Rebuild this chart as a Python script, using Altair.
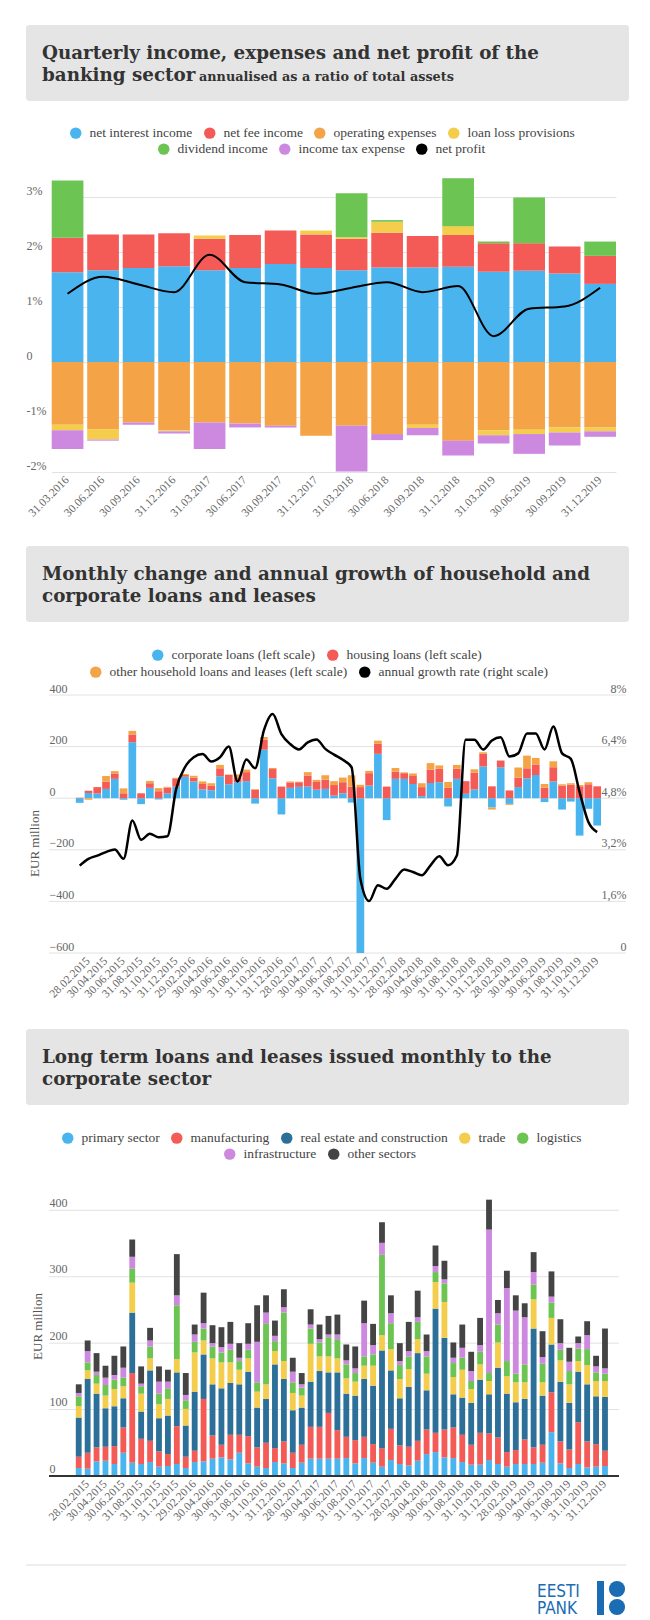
import altair as alt
import pandas as pd

SERIF = "Liberation Serif"
TITLE_FONT = "DejaVu Serif"

# ---------------- Chart 1: quarterly income, expenses, net profit ----------------
QUARTERS = ["31.03.2016", "30.06.2016", "30.09.2016", "31.12.2016",
            "31.03.2017", "30.06.2017", "30.09.2017", "31.12.2017",
            "31.03.2018", "30.06.2018", "30.09.2018", "31.12.2018",
            "31.03.2019", "30.06.2019", "30.09.2019", "31.12.2019"]
NET_INTEREST = [1.63, 1.67, 1.71, 1.74, 1.67, 1.71, 1.78, 1.71, 1.67, 1.72, 1.72, 1.73, 1.64, 1.66, 1.61, 1.42]
NET_FEE = [0.63, 0.65, 0.61, 0.60, 0.57, 0.60, 0.61, 0.61, 0.57, 0.63, 0.57, 0.58, 0.52, 0.50, 0.49, 0.51]
OPEX = [-1.14, -1.22, -1.10, -1.24, -1.10, -1.12, -1.16, -1.34, -1.16, -1.31, -1.14, -1.43, -1.24, -1.23, -1.19, -1.19]
LOAN_LOSS = [-0.10, -0.19, 0.0, -0.02, 0.06, 0.0, 0.0, 0.07, 0.03, 0.20, -0.06, 0.16, -0.09, -0.08, -0.09, -0.07]
DIVIDEND = [1.04, 0.0, 0.0, 0.0, 0.0, 0.0, 0.0, 0.0, 0.80, 0.03, 0.0, 0.87, 0.03, 0.83, 0.0, 0.26]
INCOME_TAX = [-0.34, -0.02, -0.04, -0.04, -0.48, -0.07, -0.03, 0.0, -0.83, -0.11, -0.13, -0.27, -0.15, -0.36, -0.24, -0.10]
NET_PROFIT = [1.24, 1.55, 1.41, 1.27, 1.95, 1.45, 1.41, 1.24, 1.35, 1.45, 1.27, 1.38, 0.47, 0.97, 1.01, 1.35]
C1_CATS = ["net interest income", "net fee income", "operating expenses", "loan loss provisions",
           "dividend income", "income tax expense", "net profit"]
C1_COLORS = ["#4ab4ee", "#f45b57", "#f5a347", "#f3cd4b", "#6cc552", "#cd88df", "#000000"]
C1_TICKS = [-2, -1, 0, 1, 2, 3]

# ---------------- Chart 2: monthly change of loans ----------------
MONTHS = (pd.date_range("2015-01-01", periods=60, freq="MS") + pd.offsets.MonthEnd(0)).strftime("%d.%m.%Y").tolist()
CORPORATE = [-18, 20, 18, 36, 75, -6, 217, -23, 40, -5, 19, 45,
             83, 65, 34, 31, 85, 54, 62, 66, -21, 188, 77, -63,
             40, 44, 45, 33, 36, 10, 19, -17, -600, 49, 172, -85,
             75, 75, 55, 8, 59, 62, -32, 75, 17, 34, 123, -36,
             120, -22, 43, 77, 90, -15, 65, -44, -13, -145, -41, -106]
HOUSING = [2, 9, 25, 28, 21, 19, 30, 19, 18, 27, 22, 32,
           7, 14, 21, 18, 31, 36, 16, 35, 32, 39, 36, 45,
           21, 18, 43, 30, 36, 41, 43, 45, 43, 48, 39, 45,
           28, 22, 31, 35, 52, 52, 40, 39, 49, 65, 49, 46,
           26, 30, 37, 39, 41, 41, 55, 49, 52, 46, 54, 46]
OTHER_HH = [0, -6, 0, 22, 9, 19, 14, 0, 9, 12, 3, 2,
            4, 8, 10, 9, 13, 2, 14, 10, 3, 10, 4, 0,
            4, 2, 13, 8, 17, 15, 18, 44, 9, 9, 12, 0,
            14, 3, 10, 15, 25, 13, 23, 15, 0, 13, 6, -8,
            0, -4, 39, 49, 25, 14, 23, 5, 6, 5, 8, 0]
GROWTH = [2.71, 2.92, 3.02, 3.13, 3.21, 2.92, 4.11, 3.51, 3.70, 3.59, 3.62, 5.09,
          5.76, 6.07, 6.17, 5.94, 6.07, 6.40, 5.32, 6.00, 5.73, 6.90, 7.41, 6.79,
          6.48, 6.31, 6.53, 6.62, 6.33, 6.15, 5.99, 5.76, 2.30, 1.61, 2.10, 1.99,
          2.30, 2.59, 2.51, 2.41, 2.72, 3.00, 2.72, 3.02, 6.61, 6.61, 6.31, 6.59,
          6.69, 6.09, 6.19, 6.81, 6.81, 6.31, 7.02, 6.19, 6.02, 4.99, 4.06, 3.75]
C2_CATS = ["corporate loans (left scale)", "housing loans (left scale)",
           "other household loans and leases (left scale)", "annual growth rate (right scale)"]
C2_COLORS = ["#4ab4ee", "#f45b57", "#f5a347", "#000000"]
C2_LEFT_TICKS = [-600, -400, -200, 0, 200, 400]
C2_RIGHT_TICKS = [0, 1.6, 3.2, 4.8, 6.4, 8]

# ---------------- Chart 3: long term loans issued to corporates ----------------
PRIMARY = [12, 11, 22, 23, 18, 35, 20, 18, 21, 14, 15, 18, 12, 21, 22, 26, 28, 25, 35, 19,
           14, 12, 21, 19, 12, 20, 26, 26, 26, 26, 27, 19, 27, 20, 14, 24, 18, 16, 23, 33,
           36, 28, 27, 21, 17, 17, 24, 18, 14, 18, 18, 18, 20, 66, 19, 12, 18, 13, 14, 15]
MANUFACTURING = [17, 24, 21, 21, 27, 38, 135, 38, 32, 23, 18, 57, 17, 17, 94, 35, 19, 37, 27, 41,
                 29, 38, 21, 33, 23, 27, 48, 48, 69, 43, 32, 35, 32, 28, 28, 47, 28, 28, 30, 37,
                 29, 42, 46, 41, 30, 48, 40, 40, 22, 21, 37, 25, 27, 60, 33, 28, 63, 39, 34, 23]
REAL_ESTATE = [59, 111, 81, 58, 60, 44, 91, 41, 106, 50, 58, 81, 47, 89, 67, 77, 85, 78, 76, 97,
               60, 66, 126, 94, 64, 56, 68, 84, 61, 87, 65, 67, 87, 88, 147, 88, 71, 90, 132, 59,
               187, 138, 50, 56, 63, 80, 59, 105, 88, 72, 61, 179, 74, 72, 90, 70, 76, 86, 72, 81]
TRADE = [17, 13, 15, 19, 26, 18, 45, 27, 18, 21, 25, 20, 25, 59, 21, 39, 39, 31, 22, 20,
         24, 22, 20, 27, 26, 18, 57, 22, 24, 21, 23, 21, 20, 30, 23, 32, 29, 27, 21, 25,
         40, 54, 26, 42, 21, 23, 20, 38, 26, 30, 25, 44, 20, 40, 32, 28, 16, 29, 23, 24]
LOGISTICS = [15, 12, 13, 16, 14, 13, 21, 11, 18, 16, 16, 81, 13, 16, 18, 18, 15, 19, 13, 13,
             14, 91, 15, 73, 16, 12, 23, 21, 29, 29, 21, 13, 14, 17, 121, 39, 21, 19, 26, 26,
             15, 28, 21, 18, 12, 19, 12, 27, 23, 13, 27, 22, 28, 23, 16, 20, 19, 24, 13, 11]
INFRASTRUCTURE = [5, 17, 5, 11, 7, 15, 18, 4, 9, 18, 10, 15, 8, 11, 8, 5, 8, 9, 5, 9,
                  61, 17, 8, 8, 16, 5, 6, 5, 4, 7, 6, 7, 50, 14, 18, 15, 6, 8, 7, 8,
                  9, 6, 8, 15, 15, 10, 216, 17, 110, 95, 71, 19, 10, 9, 10, 14, 8, 21, 9, 8]
OTHER_SECTORS = [13, 16, 28, 18, 29, 32, 26, 26, 19, 23, 18, 62, 33, 15, 46, 27, 30, 33, 22, 31,
                 55, 26, 23, 27, 21, 17, 23, 22, 28, 30, 24, 33, 34, 32, 31, 27, 27, 44, 40, 25,
                 31, 28, 23, 35, 29, 41, 45, 20, 26, 23, 21, 30, 39, 38, 36, 21, 10, 21, 16, 60]
C3_CATS = ["primary sector", "manufacturing", "real estate and construction", "trade",
           "logistics", "infrastructure", "other sectors"]
C3_COLORS = ["#4ab4ee", "#f45b57", "#2c6f98", "#f3cd4b", "#6cc552", "#cd88df", "#444444"]
C3_TICKS = [0, 100, 200, 300, 400]


def long_df(dates, series, cats):
    rows = []
    for j, (cat, vals) in enumerate(zip(cats, series)):
        for d, v in zip(dates, vals):
            rows.append({"date": d, "cat": cat, "value": v, "ord": j})
    return pd.DataFrame(rows)


def legend(values, x, y):
    return alt.Legend(title=None, orient="none", legendX=x, legendY=y, direction="horizontal",
                      columns=len(values), values=values, symbolType="circle", symbolSize=130,
                      symbolStrokeWidth=0, symbolOpacity=1, labelFont=SERIF, labelFontSize=13.5,
                      labelColor="#444444", labelLimit=400, columnPadding=10, labelOffset=7)


def x_axis(values):
    return alt.Axis(values=values, labelAngle=-45, labelAlign="right", labelBaseline="middle",
                    labelPadding=6, domain=False, ticks=False, labelOverlap=False, title=None,
                    labelFont=SERIF, labelFontSize=11.5, labelColor="#666666", labelFlush=False)


def header(line1, line2, sub, sub_x, top, bottom):
    base = alt.Chart(pd.DataFrame({"k": [0]}))
    box = base.mark_rect(color="#e5e5e5", cornerRadius=3).encode(
        x=alt.value(0), x2=alt.value(603), y=alt.value(top), y2=alt.value(top + 76))
    tstyle = dict(align="left", baseline="alphabetic", font=TITLE_FONT, fontWeight="bold", color="#333333")
    t1 = base.mark_text(fontSize=18.3, **tstyle).encode(x=alt.value(16), y=alt.value(top + 34), text=alt.value(line1))
    t2 = base.mark_text(fontSize=18.3, **tstyle).encode(x=alt.value(16), y=alt.value(top + 56), text=alt.value(line2))
    layers = [box, t1, t2]
    if sub:
        t3 = base.mark_text(fontSize=12.8, **tstyle).encode(x=alt.value(sub_x), y=alt.value(top + 56), text=alt.value(sub))
        layers.append(t3)
    return alt.layer(*layers).properties(width=603, height=top + 76 + bottom)


# ---------------- build chart 1 ----------------
df1 = long_df(QUARTERS, [NET_INTEREST, NET_FEE, OPEX, LOAN_LOSS, DIVIDEND, INCOME_TAX], C1_CATS[:6])
df1_line = pd.DataFrame({"date": QUARTERS, "net": NET_PROFIT, "series": "net profit"})
x1 = alt.X("date:N", sort=QUARTERS, title=None,
           scale=alt.Scale(paddingInner=0.107, paddingOuter=0, range=[25.7, 590]),
           axis=x_axis(QUARTERS))
y1_scale = alt.Scale(domain=[-2, 3.4], nice=False, zero=False)
bars1 = alt.Chart(df1).mark_bar().encode(
    x=x1,
    y=alt.Y("value:Q", stack="zero", scale=y1_scale, title=None,
            axis=alt.Axis(values=C1_TICKS, labelExpr="datum.value == 0 ? '0' : datum.value + '%'",
                          grid=True, gridColor="#e2e2e2", domain=False, ticks=False, tickSize=0,
                          labelAlign="left", labelBaseline="alphabetic", labelPadding=0, labelOffset=-3,
                          labelFont=SERIF, labelFontSize=12, labelColor="#666666", title=None)),
    fill=alt.Fill("cat:N", scale=alt.Scale(domain=C1_CATS, range=C1_COLORS),
                  legend=legend(C1_CATS[:4], 43, -49)),
    order=alt.Order("ord:Q"),
)
line1 = alt.Chart(df1_line).mark_line(color="#000000", strokeWidth=2, interpolate="monotone").encode(
    x=alt.X("date:N", sort=QUARTERS), y=alt.Y("net:Q", scale=y1_scale))
# invisible points that carry the second legend row
key1 = alt.Chart(df1_line).mark_circle(opacity=0).encode(
    x=alt.X("date:N", sort=QUARTERS), y=alt.Y("net:Q", scale=y1_scale),
    color=alt.Color("series:N", scale=alt.Scale(domain=C1_CATS[::-1], range=C1_COLORS[::-1]),
                    legend=legend(C1_CATS[4:], 131, -33)))
chart1 = alt.layer(bars1, line1, key1).properties(width=594, height=297)

# ---------------- build chart 2 ----------------
df2 = long_df(MONTHS, [CORPORATE, HOUSING, OTHER_HH], C2_CATS[:3])
df2_line = pd.DataFrame({"date": MONTHS, "growth": GROWTH, "series": C2_CATS[3]})
x2 = alt.X("date:N", sort=MONTHS, title=None,
           scale=alt.Scale(paddingInner=0.122, paddingOuter=0, range=[49.85, 575.0]),
           axis=x_axis(MONTHS[1::2]))
y2_scale = alt.Scale(domain=[-600, 400], nice=False, zero=False)
y2r_scale = alt.Scale(domain=[0, 8], nice=False, zero=False)
grid2 = alt.Chart(pd.DataFrame({"g": C2_LEFT_TICKS})).mark_rule(color="#e2e2e2", strokeWidth=1).encode(
    y=alt.Y("g:Q", scale=y2_scale), x=alt.value(23), x2=alt.value(600))
bars2 = alt.Chart(df2).mark_bar().encode(
    x=x2,
    y=alt.Y("value:Q", stack="zero", scale=y2_scale,
            axis=alt.Axis(values=C2_LEFT_TICKS, grid=False, domain=False, ticks=False, tickSize=0,
                          labelAlign="left", labelBaseline="alphabetic", labelPadding=-23, labelOffset=-3,
                          labelFont=SERIF, labelFontSize=12, labelColor="#666666",
                          title="EUR million", titleX=8, titleY=148, titleAngle=-90, titleAlign="center",
                          titleBaseline="middle", titleFont=SERIF, titleFontSize=13, titleFontWeight="normal",
                          titleColor="#555555")),
    fill=alt.Fill("cat:N", scale=alt.Scale(domain=C2_CATS, range=C2_COLORS),
                  legend=legend(C2_CATS[:2], 125, -47)),
    order=alt.Order("ord:Q"),
)
line2 = alt.Chart(df2_line).mark_line(color="#000000", strokeWidth=2.5, interpolate="monotone").encode(
    x=alt.X("date:N", sort=MONTHS),
    y=alt.Y("growth:Q", scale=y2r_scale, title=None,
            axis=alt.Axis(orient="right", values=C2_RIGHT_TICKS,
                          labelExpr="datum.value == 0 ? '0' : replace(format(datum.value, '.1~f'), '.', ',') + '%'",
                          grid=False, domain=False, ticks=False, tickSize=0, labelAlign="right",
                          labelBaseline="alphabetic", labelPadding=0, labelOffset=-3,
                          labelFont=SERIF, labelFontSize=12, labelColor="#666666", title=None)))
key2 = alt.Chart(df2_line).mark_circle(opacity=0).encode(
    x=alt.X("date:N", sort=MONTHS), y=alt.Y("growth:Q", scale=y2r_scale),
    color=alt.Color("series:N", scale=alt.Scale(domain=C2_CATS[::-1], range=C2_COLORS[::-1]),
                    legend=legend(C2_CATS[2:], 63, -30)))
chart2 = alt.layer(alt.layer(grid2, bars2), alt.layer(line2, key2)).resolve_scale(
    y="independent").properties(width=600, height=258)

# ---------------- build chart 3 ----------------
df3 = long_df(MONTHS, [PRIMARY, MANUFACTURING, REAL_ESTATE, TRADE, LOGISTICS, INFRASTRUCTURE, OTHER_SECTORS], C3_CATS)
df3_key = df3[df3["cat"].isin(C3_CATS[5:])]
x3 = alt.X("date:N", sort=MONTHS, title=None,
           scale=alt.Scale(paddingInner=0.346, paddingOuter=0, range=[49.8, 581.9]),
           axis=x_axis(MONTHS[1::2]))
y3_scale = alt.Scale(domain=[0, 420], nice=False)
grid3 = alt.Chart(pd.DataFrame({"g": C3_TICKS[1:]})).mark_rule(color="#e2e2e2", strokeWidth=1).encode(
    y=alt.Y("g:Q", scale=y3_scale), x=alt.value(23), x2=alt.value(593))
bars3 = alt.Chart(df3).mark_bar().encode(
    x=x3,
    y=alt.Y("value:Q", stack="zero", scale=y3_scale,
            axis=alt.Axis(values=C3_TICKS, grid=False, domain=False, ticks=False, tickSize=0,
                          labelAlign="left", labelBaseline="alphabetic", labelPadding=-23, labelOffset=-4,
                          labelFont=SERIF, labelFontSize=12, labelColor="#666666",
                          title="EUR million", titleX=11, titleY=129, titleAngle=-90, titleAlign="center",
                          titleBaseline="middle", titleFont=SERIF, titleFontSize=13, titleFontWeight="normal",
                          titleColor="#555555")),
    fill=alt.Fill("cat:N", scale=alt.Scale(domain=C3_CATS, range=C3_COLORS),
                  legend=legend(C3_CATS[:5], 35, -66)),
    order=alt.Order("ord:Q"),
)
key3 = alt.Chart(df3_key).mark_circle(opacity=0).encode(
    x=alt.X("date:N", sort=MONTHS), y=alt.Y("value:Q", scale=y3_scale),
    color=alt.Color("cat:N", scale=alt.Scale(domain=C3_CATS[::-1], range=C3_COLORS[::-1]),
                    legend=legend(C3_CATS[5:], 197, -50)))
base3 = alt.Chart(pd.DataFrame({"g": [0]})).mark_rule(color="#333333", strokeWidth=2).encode(
    y=alt.Y("g:Q", scale=y3_scale), x=alt.value(23), x2=alt.value(593))
chart3 = alt.layer(grid3, bars3, base3, key3).properties(width=593, height=279)

# ---------------- headers & footer ----------------
h1 = header("Quarterly income, expenses and net profit of the", "banking sector",
            "annualised as a ratio of total assets", 173, 0, 25)
h2 = header("Monthly change and annual growth of household and", "corporate loans and leases",
            None, 0, 27, 26)
h3 = header("Long term loans and leases issued monthly to the", "corporate sector",
            None, 0, 29, 26)

fb = alt.Chart(pd.DataFrame({"k": [0]}))
LOGO_BLUE = "#1b6cb3"
LOGO_FONT = "Liberation Sans Narrow, DejaVu Sans Condensed, sans-serif"
FT = 42
footer = alt.layer(
    fb.mark_rule(color="#dddddd", strokeWidth=1).encode(x=alt.value(0), x2=alt.value(600), y=alt.value(FT)),
    fb.mark_text(align="left", baseline="alphabetic", font=LOGO_FONT, fontSize=17,
                 color=LOGO_BLUE).encode(x=alt.value(511), y=alt.value(FT + 32), text=alt.value("EESTI")),
    fb.mark_text(align="left", baseline="alphabetic", font=LOGO_FONT, fontSize=17,
                 color=LOGO_BLUE).encode(x=alt.value(511), y=alt.value(FT + 49), text=alt.value("PANK")),
    fb.mark_rect(color=LOGO_BLUE).encode(x=alt.value(571), x2=alt.value(578), y=alt.value(FT + 16), y2=alt.value(FT + 50)),
    fb.mark_circle(color=LOGO_BLUE, opacity=1, size=260).encode(x=alt.value(591), y=alt.value(FT + 24)),
    fb.mark_circle(color=LOGO_BLUE, opacity=1, size=260).encode(x=alt.value(591), y=alt.value(FT + 42)),
).properties(width=603, height=FT + 55)

chart = alt.vconcat(h1, chart1, h2, chart2, h3, chart3, footer, spacing=0).resolve_scale(
    x="independent", y="independent", fill="independent", color="independent"
).resolve_legend(fill="independent", color="independent").properties(
    padding={"left": 17, "top": 17, "right": 0, "bottom": 0}
).configure_view(strokeWidth=0)

chart.save("out.html", embed_options={"renderer": "svg", "actions": False})
